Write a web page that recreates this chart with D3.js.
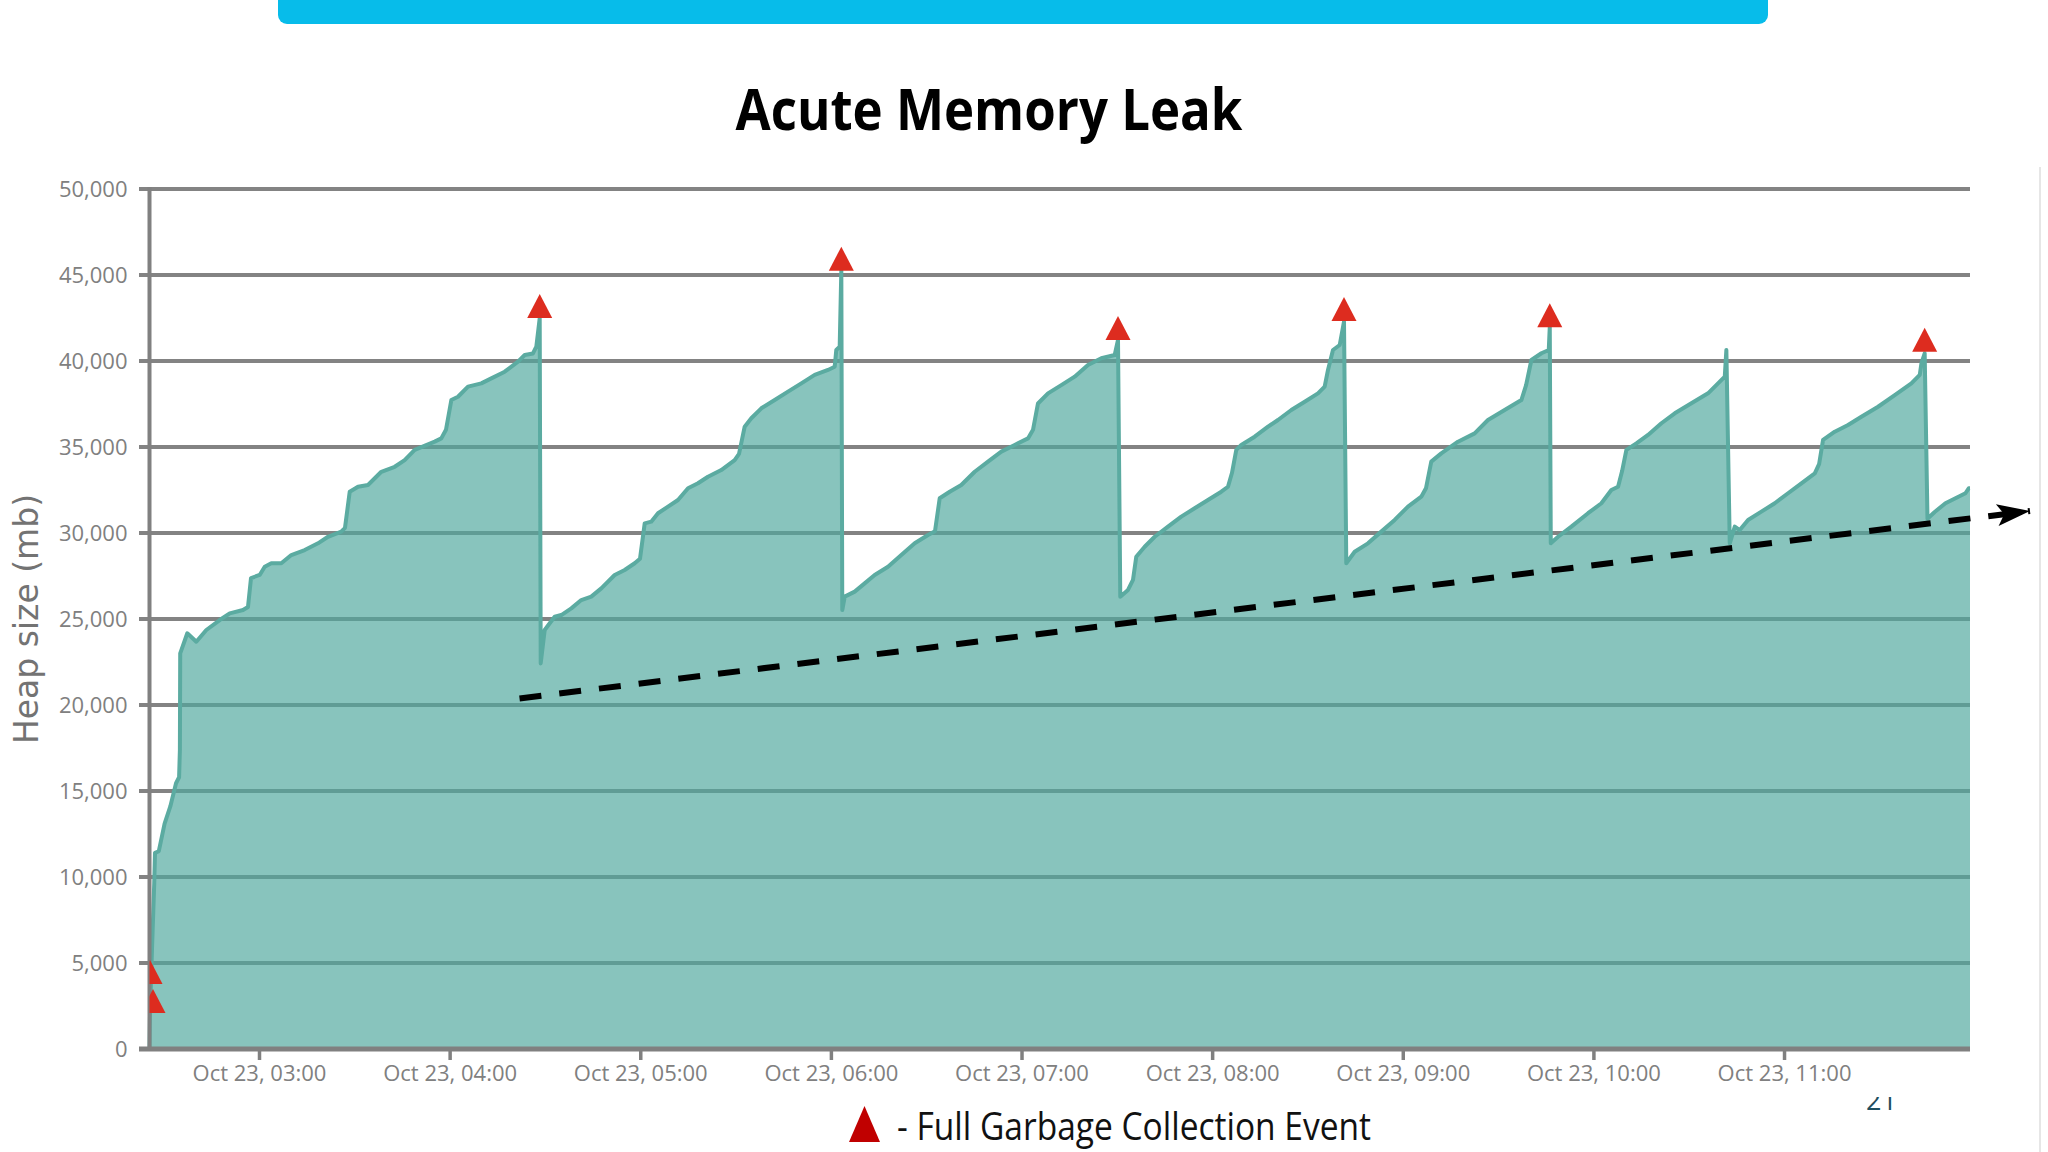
<!DOCTYPE html>
<html>
<head>
<meta charset="utf-8">
<script src="https://cdn.jsdelivr.net/npm/d3@7"></script>
<style>
  html, body { margin: 0; padding: 0; background: #ffffff; }
  svg { display: block; }
</style>
</head>
<body>
<script>
// ---------------- DATA ----------------
const chartTitle = "Acute Memory Leak";
const yAxisTitle = "Heap size (mb)";
const legendLabel = "- Full Garbage Collection Event";
const slideNumber = "21";
const chartDay = "2023-10-23";
const domainTimes = ["02:25:32", "11:58:32"];
const yTicks = [0, 5000, 10000, 15000, 20000, 25000, 30000, 35000, 40000, 45000, 50000];
const xTickTimes = ["03:00:00", "04:00:00", "05:00:00", "06:00:00", "07:00:00", "08:00:00", "09:00:00", "10:00:00", "11:00:00"];

const heapTimes = [
  "02:25:32","02:25:41","02:26:19","02:27:01","02:27:16","02:28:28","02:30:17","02:32:05","02:33:53","02:34:51",
  "02:35:06","02:35:12","02:37:26","02:40:16","02:43:25","02:47:38","02:50:47","02:54:58","02:56:32","02:57:29",
  "03:00:13","03:01:48","03:03:52","03:07:01","03:10:10","03:14:23","03:18:34","03:21:43","03:25:54","03:27:04",
  "03:28:33","03:31:10","03:34:18","03:38:30","03:42:43","03:45:51","03:49:00","03:55:18","03:57:23","03:58:51",
  "04:00:32","04:02:38","04:05:47","04:09:58","04:13:07","04:17:20","04:21:31","04:23:38","04:26:14","04:27:17",
  "04:28:21","04:28:40","04:29:55","04:31:30","04:33:04","04:35:09","04:38:18","04:41:26","04:44:35","04:47:44",
  "04:51:57","04:55:06","04:58:15","04:59:55","05:01:24","05:03:28","05:05:35","05:08:44","05:11:53","05:15:02",
  "05:18:10","05:21:19","05:25:30","05:29:43","05:31:05","05:32:52","05:34:57","05:38:06","05:42:19","05:46:30",
  "05:50:41","05:54:54","05:59:05","06:01:12","06:01:42","06:02:46","06:03:17","06:03:35","06:04:21","06:07:30",
  "06:10:38","06:13:47","06:17:59","06:22:10","06:26:23","06:30:34","06:32:46","06:34:15","06:37:24","06:41:03",
  "06:45:16","06:49:27","06:53:38","06:57:51","07:02:02","07:03:37","07:05:11","07:08:20","07:12:31","07:16:44",
  "07:20:55","07:25:07","07:29:20","07:30:22","07:31:05","07:33:31","07:35:05","07:36:07","07:38:46","07:41:55",
  "07:46:06","07:50:17","07:54:30","07:58:41","08:02:53","08:04:59","08:06:15","08:07:36","08:09:10","08:13:23",
  "08:17:35","08:20:43","08:24:55","08:29:08","08:33:19","08:35:25","08:36:28","08:38:02","08:40:09","08:41:30",
  "08:42:13","08:44:52","08:49:03","08:53:14","08:57:27","09:01:38","09:05:50","09:07:18","09:08:58","09:12:07",
  "09:17:23","09:22:38","09:26:49","09:32:04","09:37:20","09:38:49","09:40:29","09:43:38","09:45:57","09:46:16",
  "09:46:35","09:48:53","09:53:04","09:58:19","10:02:31","10:05:39","10:07:46","10:09:02","10:10:23","10:13:32",
  "10:17:12","10:21:24","10:25:37","10:30:50","10:36:05","10:39:14","10:41:21","10:41:51","10:42:55","10:44:30",
  "10:46:04","10:48:41","10:52:52","10:57:05","11:01:16","11:05:28","11:09:41","11:11:02","11:12:17","11:15:58",
  "11:20:09","11:24:21","11:29:36","11:34:51","11:40:05","11:42:43","11:43:14","11:44:16","11:45:09","11:47:25",
  "11:50:48","11:53:57","11:57:06","11:58:08","11:58:32"
];
const heapValues = [
  0,1900,5800,9600,11400,11500,13100,14100,15450,15800,
  17400,23000,24170,23680,24360,24940,25330,25520,25700,27380,
  27560,28040,28240,28240,28720,29010,29400,29780,30080,30300,
  32400,32690,32790,33560,33850,34240,34830,35310,35500,36000,
  37730,37920,38510,38700,38990,39380,39960,40350,40440,40830,
  42480,22420,24360,24750,25130,25230,25620,26100,26300,26780,
  27560,27850,28240,28500,30560,30660,31150,31530,31920,32600,
  32890,33270,33660,34240,34600,36180,36670,37250,37730,38220,
  38700,39190,39480,39670,40640,40830,45290,25520,26300,26590,
  27070,27560,28040,28720,29400,29880,30100,32020,32400,32790,
  33560,34150,34730,35120,35500,36000,37530,38120,38600,39090,
  39770,40160,40350,41220,26300,26690,27270,28620,29200,29780,
  30370,30950,31440,31920,32400,32690,33500,34830,35120,35600,
  36180,36570,37150,37630,38120,38510,39480,40640,40930,42290,
  28240,28910,29400,30080,30760,31530,32110,32600,34150,34630,
  35310,35790,36570,37150,37730,38600,40060,40450,40640,41990,
  29400,29780,30370,31150,31730,32500,32690,33600,34830,35210,
  35700,36380,36960,37540,38120,38700,39090,40640,29400,30370,
  30170,30760,31240,31730,32310,32890,33470,34000,35410,35890,
  36280,36760,37340,38020,38700,39190,39860,40450,30830,31220,
  31730,32020,32310,32600,32600
];

// Full garbage collection events (marker base sits on the heap value)
const gcTimes  = ["02:25:42","02:26:38","04:28:21","06:03:17","07:30:22","08:41:30","09:46:16","11:44:16"];
const gcValues = [3780, 2090, 42500, 45250, 41220, 42330, 41960, 40540];

// Dashed trend line (arrow)
const trendTimes  = ["04:22:00", "12:17:25"];
const trendValues = [20380, 31280];

// ---------------- CHART ----------------
const W = 2048, H = 1152;
const parseT = s => d3.timeParse("%Y-%m-%d %H:%M:%S")(chartDay + " " + s);
const fmtX = d3.timeFormat("%b %d, %H:%M");

const x = d3.scaleTime().domain(domainTimes.map(parseT)).range([149.5, 1970]);
const y = d3.scaleLinear().domain([0, 50000]).range([1049, 189]);

const svg = d3.select("body").append("svg").attr("width", W).attr("height", H);
svg.append("rect").attr("width", W).attr("height", H).attr("fill", "#ffffff");

const defs = svg.append("defs");
defs.append("clipPath").attr("id", "plotClip")
  .append("rect").attr("x", 149.5).attr("y", 0).attr("width", W - 149.5).attr("height", 1049);
defs.append("clipPath").attr("id", "numClip")
  .append("rect").attr("x", 0).attr("y", 1097).attr("width", W).attr("height", H - 1097);
defs.append("marker").attr("id", "arrowHead")
  .attr("markerUnits", "userSpaceOnUse")
  .attr("viewBox", "-36 -12 38 24")
  .attr("refX", 0).attr("refY", 0)
  .attr("markerWidth", 38).attr("markerHeight", 24)
  .attr("orient", "auto")
  .append("path").attr("d", "M0,0 L-33,-11 L-26,0 L-33,11 Z").attr("fill", "#000");

// top blue bar
svg.append("rect").attr("x", 278).attr("y", -12).attr("width", 1490).attr("height", 36)
  .attr("rx", 9).attr("fill", "#07BCEA");

// title
svg.append("text").attr("x", 735.5).attr("y", 130)
  .attr("font-family", "'Open Sans', 'Noto Sans', sans-serif").attr("font-weight", 700)
  .attr("font-size", 57).attr("fill", "#000")
  .attr("textLength", 507).attr("lengthAdjust", "spacingAndGlyphs")
  .text(chartTitle);

// gridlines
svg.append("g").selectAll("line").data(yTicks.filter(d => d !== 0)).join("line")
  .attr("x1", 139).attr("x2", 1970)
  .attr("y1", d => y(d)).attr("y2", d => y(d))
  .attr("stroke", "#838383").attr("stroke-width", 4);

// data
const heap = heapTimes.map((t, i) => ({ t: parseT(t), v: heapValues[i] }));

svg.append("path").datum(heap)
  .attr("d", d3.area().x(d => x(d.t)).y0(y(0)).y1(d => y(d.v)))
  .attr("fill", "rgb(79,168,157)").attr("fill-opacity", 0.68);

svg.append("path").datum(heap)
  .attr("d", d3.line().x(d => x(d.t)).y(d => y(d.v)))
  .attr("fill", "none").attr("stroke", "#5BABA1").attr("stroke-width", 4)
  .attr("stroke-linejoin", "round");

// y axis labels
const yAxis = svg.append("g").attr("transform", "translate(149.5,0)")
  .call(d3.axisLeft(y).tickValues(yTicks).tickFormat(d3.format(",")).tickSize(0).tickPadding(22));
yAxis.select(".domain").remove();
yAxis.selectAll("text").attr("font-family", "'Open Sans', sans-serif").attr("font-size", 22)
  .attr("fill", "#808080").attr("dy", "0.36em");

// axis lines
svg.append("line").attr("x1", 149.5).attr("x2", 149.5).attr("y1", 187).attr("y2", 1051)
  .attr("stroke", "#808080").attr("stroke-width", 4);
svg.append("line").attr("x1", 139).attr("x2", 1970).attr("y1", y(0)).attr("y2", y(0))
  .attr("stroke", "#808080").attr("stroke-width", 5);

// x axis
const xAxis = svg.append("g").attr("transform", `translate(0,${y(0)})`)
  .call(d3.axisBottom(x).tickValues(xTickTimes.map(parseT)).tickFormat(fmtX).tickSize(11).tickPadding(5));
xAxis.select(".domain").remove();
xAxis.selectAll(".tick line").attr("stroke", "#808080").attr("stroke-width", 3.5);
xAxis.selectAll("text").attr("font-family", "'Open Sans', sans-serif").attr("font-size", 22)
  .attr("fill", "#808080");

// y axis title
svg.append("text").attr("transform", "translate(38,619) rotate(-90)")
  .attr("text-anchor", "middle")
  .attr("font-family", "'DejaVu Sans', sans-serif").attr("font-size", 33)
  .attr("fill", "#737373").text(yAxisTitle);

// trend line
const trend = trendTimes.map((t, i) => ({ t: parseT(t), v: trendValues[i] }));
svg.append("path").datum(trend)
  .attr("d", d3.line().x(d => x(d.t)).y(d => y(d.v)))
  .attr("fill", "none").attr("stroke", "#000").attr("stroke-width", 6)
  .attr("stroke-dasharray", "22,18")
  .attr("marker-end", "url(#arrowHead)");

// GC markers
const gc = gcTimes.map((t, i) => ({ t: parseT(t), v: gcValues[i] }));
svg.append("g").attr("clip-path", "url(#plotClip)")
  .selectAll("path").data(gc).join("path")
  .attr("transform", d => `translate(${x(d.t)},${y(d.v)})`)
  .attr("d", "M-12.5,0 L12.5,0 L0,-24 Z")
  .attr("fill", "#DD2C1F");

// legend
svg.append("path").attr("d", "M849,1142 L880,1142 L864.5,1106 Z").attr("fill", "#C00000");
svg.append("text").attr("x", 897).attr("y", 1140)
  .attr("font-family", "'Open Sans', sans-serif").attr("font-size", 39).attr("fill", "#111")
  .attr("textLength", 474).attr("lengthAdjust", "spacingAndGlyphs")
  .text(legendLabel);

// slide number (partially hidden)
svg.append("text").attr("x", 1866).attr("y", 1110).attr("clip-path", "url(#numClip)")
  .attr("font-family", "'Open Sans', sans-serif").attr("font-size", 27).attr("fill", "#1F4E5F")
  .text(slideNumber);

// faint right edge of the chart image
svg.append("line").attr("x1", 2040).attr("x2", 2040).attr("y1", 167).attr("y2", H)
  .attr("stroke", "#e6e6e6").attr("stroke-width", 2);
</script>
</body>
</html>
